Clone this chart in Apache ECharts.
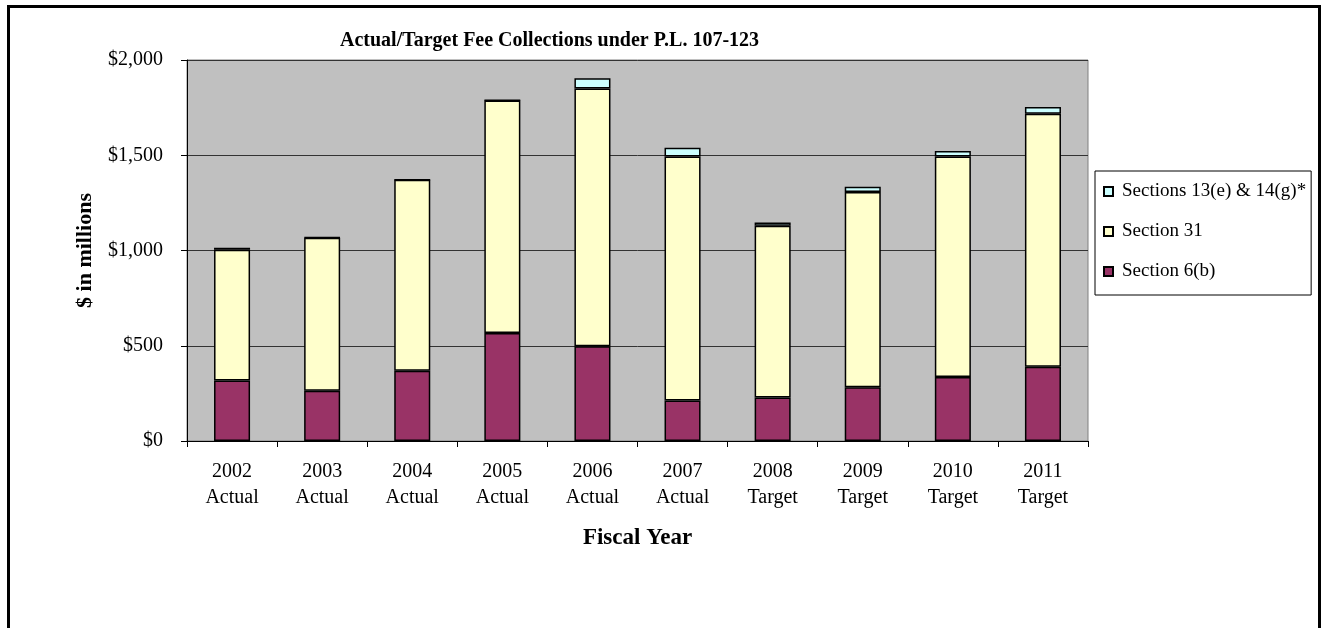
<!DOCTYPE html>
<html>
<head>
<meta charset="utf-8">
<script src="https://cdn.jsdelivr.net/npm/echarts@6/dist/echarts.min.js"></script>
<style>
html,body{margin:0;padding:0;background:#fff;}
#chart{width:1325px;height:628px;}
</style>
</head>
<body>
<div id="chart"></div>
<script>
const years = ['2002\nActual','2003\nActual','2004\nActual','2005\nActual','2006\nActual','2007\nActual','2008\nTarget','2009\nTarget','2010\nTarget','2011\nTarget'];
const section6b = [317, 264, 369, 567, 497, 212, 229, 282, 336, 390];
const section31 = [687, 803, 1002, 1221, 1353, 1282, 901, 1025, 1158, 1328];
const section13e14g = [10, 2, 1, 1, 54, 46, 17, 28, 28, 35];
const yTicks = [0, 500, 1000, 1500, 2000];

const FONT = "'Liberation Serif', 'DejaVu Serif', serif";
const chart = echarts.init(document.getElementById('chart'));
const barStyle = (c) => ({ color: c, borderColor: '#000', borderWidth: 1.5 });

chart.setOption({
  animation: false,
  backgroundColor: '#fff',
  textStyle: { fontFamily: FONT, color: '#000' },
  graphic: [{
    type: 'rect', silent: true, z: 100,
    shape: { x: 8.5, y: 6.5, width: 1311, height: 700 },
    style: { fill: 'none', stroke: '#000', lineWidth: 3 }
  }],
  title: {
    text: 'Actual/Target Fee Collections under P.L. 107-123',
    left: 340, top: 31, padding: 0,
    textStyle: { fontFamily: FONT, fontWeight: 'bold', fontSize: 20, color: '#000' }
  },
  legend: {
    orient: 'vertical',
    left: 1095, top: 171,
    padding: [11, 5, 14, 8],
    itemGap: 21,
    itemWidth: 9, itemHeight: 9,
    icon: 'rect',
    borderColor: '#000', borderWidth: 1,
    backgroundColor: '#fff',
    data: ['Sections 13(e) & 14(g)*', 'Section 31', 'Section 6(b)'],
    textStyle: { fontFamily: FONT, fontSize: 19, color: '#000', padding: [0, 0, 0, 4] }
  },
  grid: {
    left: 187, right: 237, top: 60, bottom: 187,
    show: true, backgroundColor: '#c0c0c0', borderColor: '#808080', borderWidth: 1
  },
  xAxis: {
    type: 'category',
    data: years,
    name: 'Fiscal Year',
    nameLocation: 'middle',
    nameGap: 86,
    nameTextStyle: { fontFamily: FONT, fontWeight: 'bold', fontSize: 23, color: '#000' },
    axisLine: { lineStyle: { color: '#000', width: 1 } },
    axisTick: { show: true, length: 6, lineStyle: { color: '#000' } },
    axisLabel: { fontFamily: FONT, fontSize: 20, color: '#000', lineHeight: 26, margin: 18 }
  },
  yAxis: {
    type: 'value',
    min: yTicks[0], max: yTicks[yTicks.length - 1], interval: 500,
    name: '$ in millions',
    nameLocation: 'middle',
    nameGap: 91,
    nameTextStyle: { fontFamily: FONT, fontWeight: 'bold', fontSize: 22, color: '#000' },
    axisLine: { show: true, lineStyle: { color: '#000', width: 1 } },
    axisTick: { show: true, length: 6, lineStyle: { color: '#000' } },
    splitLine: { show: true, lineStyle: { color: '#333', width: 1 } },
    axisLabel: {
      fontFamily: FONT, fontSize: 20, color: '#000', margin: 24,
      formatter: v => '$' + v.toLocaleString('en-US')
    }
  },
  series: [
    { name: 'Section 6(b)', type: 'bar', stack: 'fees', barWidth: '40%', data: section6b, itemStyle: barStyle('#993366') },
    { name: 'Section 31', type: 'bar', stack: 'fees', barWidth: '40%', data: section31, itemStyle: barStyle('#ffffcc') },
    { name: 'Sections 13(e) & 14(g)*', type: 'bar', stack: 'fees', barWidth: '40%', data: section13e14g, itemStyle: barStyle('#ccffff') }
  ]
});
</script>
</body>
</html>
